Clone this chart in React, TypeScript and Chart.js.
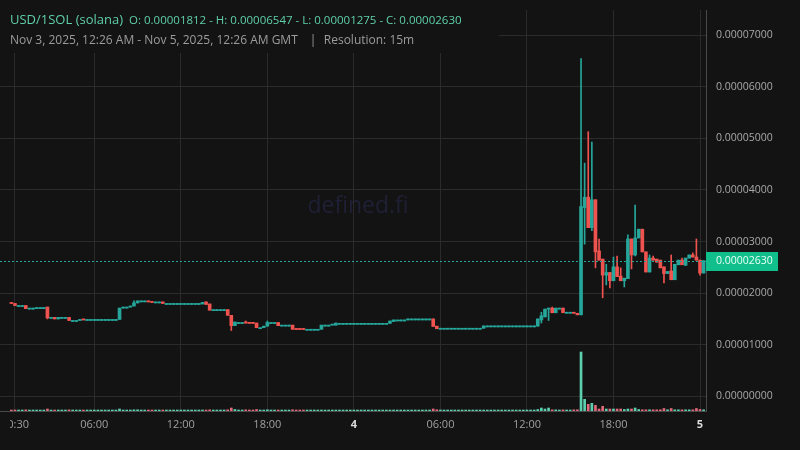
import React, { useEffect, useRef } from "react";
import { Chart, registerables } from "chart.js";

Chart.register(...registerables);

// Prices are in units of 0.00001 SOL-per-USD (PRICE_UNIT); one candle per 15-minute slot.
const PRICE_UNIT = 1e-5;
const FIRST_SLOT = 1; // slot index counted in 15-min steps from Nov 3, 00:00 GMT

const OPEN = [
  1.81, 1.80, 1.76, 1.76, 1.76, 1.71, 1.71, 1.70, 1.72, 1.72,
  1.73, 1.53, 1.53, 1.50, 1.53, 1.53, 1.53, 1.47, 1.47, 1.47,
  1.49, 1.49, 1.49, 1.49, 1.49, 1.49, 1.49, 1.49, 1.49, 1.49,
  1.49, 1.71, 1.73, 1.73, 1.75, 1.81, 1.85, 1.85, 1.85, 1.83,
  1.83, 1.83, 1.83, 1.80, 1.80, 1.80, 1.80, 1.80, 1.80, 1.80,
  1.80, 1.80, 1.80, 1.79, 1.83, 1.79, 1.68, 1.68, 1.68, 1.68,
  1.68, 1.57, 1.37, 1.43, 1.43, 1.44, 1.42, 1.42, 1.42, 1.33,
  1.33, 1.36, 1.43, 1.43, 1.43, 1.38, 1.38, 1.38, 1.38, 1.30,
  1.30, 1.30, 1.30, 1.30, 1.30, 1.30, 1.30, 1.38, 1.38, 1.38,
  1.38, 1.415, 1.415, 1.415, 1.415, 1.415, 1.415, 1.415, 1.415, 1.415,
  1.415, 1.415, 1.415, 1.415, 1.415, 1.415, 1.45, 1.48, 1.48, 1.48,
  1.48, 1.50, 1.50, 1.50, 1.50, 1.50, 1.50, 1.50, 1.36, 1.32,
  1.32, 1.32, 1.32, 1.32, 1.32, 1.32, 1.32, 1.32, 1.32, 1.32,
  1.32, 1.32, 1.365, 1.365, 1.365, 1.365, 1.365, 1.365, 1.365, 1.365,
  1.365, 1.365, 1.365, 1.365, 1.365, 1.365, 1.36, 1.48, 1.54, 1.69,
  1.71, 1.62, 1.71, 1.71, 1.63, 1.63, 1.63, 1.61, 1.58, 3.66,
  3.86, 3.27, 3.81, 2.82, 2.66, 2.35, 2.40, 2.24, 2.51, 2.33,
  2.24, 2.28, 3.05, 2.74, 3.07, 3.24, 2.80, 2.41, 2.68, 2.66,
  2.64, 2.51, 2.38, 2.43, 2.26, 2.55, 2.64, 2.54, 2.68, 2.74,
  2.70, 2.64, 2.39,
];

const HIGH = [
  1.81, 1.80, 1.76, 1.76, 1.76, 1.71, 1.71, 1.72, 1.72, 1.72,
  1.73, 1.53, 1.53, 1.53, 1.53, 1.53, 1.53, 1.47, 1.47, 1.49,
  1.49, 1.49, 1.49, 1.49, 1.49, 1.49, 1.49, 1.49, 1.49, 1.49,
  1.71, 1.73, 1.73, 1.75, 1.85, 1.85, 1.85, 1.85, 1.85, 1.83,
  1.83, 1.83, 1.83, 1.80, 1.80, 1.80, 1.80, 1.80, 1.80, 1.80,
  1.80, 1.80, 1.80, 1.82, 1.83, 1.79, 1.68, 1.68, 1.68, 1.68,
  1.68, 1.57, 1.44, 1.43, 1.43, 1.46, 1.42, 1.42, 1.42, 1.33,
  1.36, 1.46, 1.43, 1.43, 1.43, 1.38, 1.38, 1.38, 1.38, 1.30,
  1.30, 1.30, 1.30, 1.30, 1.30, 1.30, 1.38, 1.38, 1.38, 1.39,
  1.42, 1.415, 1.415, 1.415, 1.415, 1.415, 1.415, 1.415, 1.415, 1.415,
  1.415, 1.415, 1.415, 1.415, 1.415, 1.46, 1.48, 1.48, 1.48, 1.48,
  1.50, 1.50, 1.50, 1.50, 1.50, 1.50, 1.50, 1.50, 1.36, 1.32,
  1.32, 1.32, 1.32, 1.32, 1.32, 1.32, 1.32, 1.32, 1.32, 1.32,
  1.32, 1.365, 1.365, 1.365, 1.365, 1.365, 1.365, 1.365, 1.365, 1.365,
  1.365, 1.365, 1.365, 1.365, 1.365, 1.365, 1.50, 1.63, 1.69, 1.71,
  1.73, 1.71, 1.71, 1.71, 1.63, 1.63, 1.63, 1.61, 6.547, 4.52,
  5.13, 4.93, 3.81, 3.05, 2.66, 2.56, 2.40, 2.70, 2.72, 2.49,
  2.29, 3.13, 3.05, 3.71, 3.24, 3.24, 2.80, 2.74, 2.72, 2.66,
  2.64, 2.51, 2.42, 2.74, 2.56, 2.64, 2.68, 2.68, 2.74, 2.78,
  3.05, 2.64, 2.63,
];

const LOW = [
  1.80, 1.76, 1.76, 1.76, 1.70, 1.71, 1.71, 1.70, 1.72, 1.72,
  1.50, 1.53, 1.50, 1.50, 1.53, 1.53, 1.47, 1.47, 1.47, 1.47,
  1.48, 1.49, 1.49, 1.49, 1.49, 1.49, 1.49, 1.49, 1.49, 1.49,
  1.49, 1.71, 1.73, 1.73, 1.75, 1.81, 1.85, 1.85, 1.83, 1.82,
  1.83, 1.83, 1.80, 1.80, 1.80, 1.80, 1.80, 1.80, 1.80, 1.80,
  1.80, 1.80, 1.80, 1.79, 1.78, 1.67, 1.68, 1.68, 1.68, 1.68,
  1.57, 1.275, 1.37, 1.43, 1.43, 1.42, 1.415, 1.415, 1.33, 1.33,
  1.33, 1.36, 1.43, 1.43, 1.37, 1.38, 1.38, 1.38, 1.30, 1.295,
  1.295, 1.295, 1.30, 1.30, 1.30, 1.30, 1.30, 1.38, 1.38, 1.38,
  1.38, 1.415, 1.415, 1.415, 1.415, 1.415, 1.415, 1.415, 1.415, 1.415,
  1.415, 1.415, 1.415, 1.415, 1.415, 1.415, 1.45, 1.48, 1.48, 1.48,
  1.48, 1.50, 1.50, 1.50, 1.50, 1.50, 1.50, 1.355, 1.31, 1.32,
  1.32, 1.32, 1.32, 1.32, 1.32, 1.32, 1.32, 1.32, 1.32, 1.32,
  1.32, 1.32, 1.365, 1.365, 1.365, 1.365, 1.365, 1.365, 1.365, 1.365,
  1.365, 1.365, 1.365, 1.365, 1.365, 1.365, 1.36, 1.42, 1.54, 1.47,
  1.62, 1.62, 1.71, 1.62, 1.63, 1.63, 1.61, 1.58, 1.58, 2.95,
  3.27, 3.21, 2.49, 2.64, 1.91, 2.16, 2.10, 2.24, 2.32, 2.24,
  2.12, 2.28, 2.47, 2.72, 3.07, 2.80, 2.41, 2.41, 2.64, 2.60,
  2.49, 2.20, 2.38, 2.26, 2.26, 2.55, 2.55, 2.54, 2.68, 2.70,
  2.64, 2.35, 2.39,
];

const CLOSE = [
  1.80, 1.76, 1.76, 1.76, 1.70, 1.71, 1.71, 1.72, 1.72, 1.72,
  1.52, 1.53, 1.50, 1.53, 1.53, 1.53, 1.47, 1.47, 1.47, 1.49,
  1.48, 1.49, 1.49, 1.49, 1.49, 1.49, 1.49, 1.49, 1.49, 1.49,
  1.71, 1.73, 1.73, 1.75, 1.81, 1.85, 1.85, 1.85, 1.83, 1.82,
  1.83, 1.83, 1.80, 1.80, 1.80, 1.80, 1.80, 1.80, 1.80, 1.80,
  1.80, 1.80, 1.80, 1.82, 1.78, 1.67, 1.68, 1.68, 1.68, 1.68,
  1.57, 1.37, 1.44, 1.43, 1.43, 1.42, 1.415, 1.415, 1.33, 1.33,
  1.36, 1.43, 1.43, 1.43, 1.37, 1.38, 1.38, 1.38, 1.30, 1.295,
  1.295, 1.295, 1.30, 1.30, 1.30, 1.30, 1.38, 1.38, 1.38, 1.39,
  1.42, 1.415, 1.415, 1.415, 1.415, 1.415, 1.415, 1.415, 1.415, 1.415,
  1.415, 1.415, 1.415, 1.415, 1.415, 1.46, 1.48, 1.48, 1.48, 1.48,
  1.50, 1.50, 1.50, 1.50, 1.50, 1.50, 1.50, 1.355, 1.31, 1.32,
  1.32, 1.32, 1.32, 1.32, 1.32, 1.32, 1.32, 1.32, 1.32, 1.32,
  1.32, 1.365, 1.365, 1.365, 1.365, 1.365, 1.365, 1.365, 1.365, 1.365,
  1.365, 1.365, 1.365, 1.365, 1.365, 1.365, 1.50, 1.56, 1.69, 1.71,
  1.62, 1.71, 1.71, 1.62, 1.63, 1.63, 1.61, 1.58, 3.68, 3.86,
  3.27, 3.81, 2.80, 2.64, 2.35, 2.40, 2.24, 2.51, 2.32, 2.24,
  2.29, 3.05, 2.74, 3.07, 3.24, 2.80, 2.41, 2.68, 2.64, 2.60,
  2.49, 2.38, 2.42, 2.26, 2.56, 2.64, 2.55, 2.68, 2.74, 2.70,
  2.64, 2.39, 2.63,
];

// relative volume per candle
const VOLUME = [
  10, 10, 10, 10, 12, 10, 10, 10, 10, 10,
  20, 10, 10, 10, 10, 10, 12, 10, 10, 10,
  10, 10, 10, 10, 10, 10, 10, 10, 10, 10,
  20, 10, 10, 10, 12, 12, 10, 10, 10, 10,
  10, 10, 10, 10, 10, 10, 10, 10, 10, 10,
  10, 10, 10, 10, 10, 12, 10, 10, 10, 10,
  12, 30, 15, 10, 10, 12, 10, 10, 15, 10,
  10, 12, 10, 10, 10, 10, 10, 10, 12, 10,
  10, 10, 10, 10, 10, 10, 10, 10, 10, 10,
  10, 10, 10, 10, 10, 10, 10, 10, 10, 10,
  10, 10, 10, 10, 10, 10, 10, 10, 10, 10,
  10, 10, 10, 10, 10, 10, 10, 20, 12, 10,
  10, 10, 10, 10, 10, 10, 10, 10, 10, 10,
  10, 10, 10, 10, 10, 10, 10, 10, 10, 10,
  10, 10, 10, 10, 10, 10, 15, 30, 20, 30,
  12, 12, 10, 12, 10, 10, 12, 12, 590, 117,
  67, 77, 57, 20, 47, 20, 20, 20, 20, 20,
  15, 20, 20, 30, 15, 12, 12, 12, 12, 12,
  12, 25, 12, 25, 12, 12, 12, 12, 12, 12,
  25, 15, 12,
];

const TICK_SLOTS = [2, 24, 48, 72, 96, 120, 144, 168, 192];
const TICK_LABELS = ["00:30", "06:00", "12:00", "18:00", "4", "06:00", "12:00", "18:00", "5"];
const DAY_TICKS = ["4", "5"];
const PRICE_TICKS = [0, 1, 2, 3, 4, 5, 6, 7];

const PAIR_TITLE = "USD/1SOL (solana)";
const OHLC_TEXT = "O: 0.00001812 - H: 0.00006547 - L: 0.00001275 - C: 0.00002630";
const RANGE_TEXT = "Nov 3, 2025, 12:26 AM - Nov 5, 2025, 12:26 AM GMT";
const RES_TEXT = "Resolution: 15m";
const WATERMARK = "defined.fi";

const BG = "#131313";
const UP = "#26a69a";
const DOWN = "#ef5350";
const VOL_UP = "#5ccfae";
const VOL_DOWN = "#e0697b";
const GRID = "#2b2b2b";
const AXIS = "#4a4a4a";
const X_LABEL = "#a0a0a0";
const FONT = "'Open Sans', 'Noto Sans', sans-serif";

export default function App() {
  const ref = useRef<HTMLCanvasElement | null>(null);

  useEffect(() => {
    const canvas = ref.current;
    if (!canvas) return;

    const isUp = OPEN.map((o, i) => CLOSE[i] >= o);
    const candleColors = isUp.map((u) => (u ? UP : DOWN));
    const volColors = isUp.map((u) => (u ? VOL_UP : VOL_DOWN));
    const lastClose = CLOSE[CLOSE.length - 1];

    const bgPlugin = {
      id: "bgAndWatermark",
      beforeDraw(chart: any) {
        const { ctx, chartArea } = chart;
        ctx.save();
        ctx.fillStyle = BG;
        ctx.fillRect(0, 0, chart.width, chart.height);
        ctx.font = `23px ${FONT}`;
        ctx.fillStyle = "#1f2036";
        ctx.textAlign = "center";
        ctx.textBaseline = "middle";
        const cx = (chartArea.left + chartArea.right) / 2 + 5;
        const cy = (chartArea.top + chartArea.bottom) / 2 - 4;
        ctx.fillText(WATERMARK, cx, cy);
        ctx.restore();
      },
    };

    const overlayPlugin = {
      id: "overlay",
      afterDatasetsDraw(chart: any) {
        const { ctx, chartArea, scales } = chart;
        const y = Math.round(scales.y.getPixelForValue(lastClose)) + 0.5;
        ctx.save();
        ctx.beginPath();
        ctx.rect(chartArea.left, chartArea.top, chartArea.right - chartArea.left, chartArea.bottom - chartArea.top);
        ctx.clip();
        ctx.strokeStyle = UP;
        ctx.lineWidth = 1;
        ctx.setLineDash([2, 2]);
        ctx.beginPath();
        ctx.moveTo(chartArea.left, y);
        ctx.lineTo(chartArea.right, y);
        ctx.stroke();
        ctx.restore();
      },
      afterDraw(chart: any) {
        const { ctx, chartArea, scales } = chart;
        ctx.save();
        // first time label, partly cut off at the pane edge
        const xs = scales.x;
        ctx.save();
        ctx.beginPath();
        ctx.rect(10, xs.top, 60, xs.height);
        ctx.clip();
        ctx.font = `11px ${FONT}`;
        ctx.fillStyle = X_LABEL;
        ctx.textAlign = "center";
        ctx.textBaseline = "middle";
        ctx.fillText(TICK_LABELS[0], xs.getPixelForValue(TICK_SLOTS[0]), xs.top + 7 + 6.6);
        ctx.restore();
        // header panel
        ctx.fillStyle = BG;
        ctx.fillRect(0, 0, 499, 53);
        ctx.textBaseline = "middle";
        ctx.textAlign = "left";
        ctx.fillStyle = "#5fd0ab";
        ctx.font = `13px ${FONT}`;
        ctx.fillText(PAIR_TITLE, 10, 20);
        const w = ctx.measureText(PAIR_TITLE).width;
        ctx.font = `11.5px ${FONT}`;
        ctx.fillText(OHLC_TEXT, 10 + w + 6, 20.5);
        ctx.fillStyle = "#9c9c9c";
        ctx.font = `12px ${FONT}`;
        ctx.fillText(RANGE_TEXT, 10, 40.5);
        const w2 = ctx.measureText(RANGE_TEXT).width;
        ctx.fillText("|", 10 + w2 + 12, 40.5);
        ctx.fillText(RES_TEXT, 10 + w2 + 26, 40.5);
        // last price label
        const y = scales.y.getPixelForValue(lastClose);
        ctx.fillStyle = "#10bf8c";
        ctx.fillRect(chartArea.right, Math.round(y) - 9, 72, 19);
        ctx.fillStyle = "#eafff7";
        ctx.font = `10.5px ${FONT}`;
        ctx.fillText((lastClose * PRICE_UNIT).toFixed(8), chartArea.right + 10, Math.round(y) + 0.5);
        ctx.restore();
      },
    };

    const chart = new Chart(canvas, {
      type: "bar",
      data: {
        datasets: [
          {
            label: "wick",
            data: LOW.map((l, i) => ({ x: FIRST_SLOT + i, y: [l, HIGH[i]] })) as any,
            backgroundColor: candleColors,
            barThickness: 1,
            minBarLength: 1,
            grouped: false,
            order: 2,
            yAxisID: "y",
          } as any,
          {
            label: "body",
            data: OPEN.map((o, i) => ({ x: FIRST_SLOT + i, y: [o, CLOSE[i]] })) as any,
            backgroundColor: candleColors,
            barThickness: 3,
            minBarLength: 1,
            grouped: false,
            order: 1,
            yAxisID: "y",
          } as any,
          {
            label: "volume",
            data: VOLUME.map((v, i) => ({ x: FIRST_SLOT + i, y: v })) as any,
            backgroundColor: volColors,
            barThickness: 2,
            minBarLength: 1,
            grouped: false,
            order: 3,
            yAxisID: "yv",
          } as any,
        ],
      },
      options: {
        animation: false,
        responsive: false,
        maintainAspectRatio: false,
        layout: { padding: { top: 10, left: 0, right: 0, bottom: 0 } },
        plugins: { legend: { display: false }, tooltip: { enabled: false } },
        scales: {
          x: {
            type: "linear",
            min: -2.155,
            max: 193.66,
            offset: false,
            afterBuildTicks: (s: any) => {
              s.ticks = TICK_SLOTS.map((v) => ({ value: v }));
            },
            afterFit: (s: any) => {
              s.height = 39;
              s.paddingLeft = 0;
              s.paddingRight = 0;
            },
            grid: { color: GRID, drawTicks: false, offset: false },
            border: { color: AXIS },
            ticks: {
              autoSkip: false,
              maxRotation: 0,
              minRotation: 0,
              padding: 7,
              // the first label is drawn by the overlay plugin (clipped at the pane edge)
              callback: (_v: any, i: number) => (i === 0 ? "" : TICK_LABELS[i]),
              color: (c: any) => (DAY_TICKS.includes(TICK_LABELS[c.index]) ? "#dcdcdc" : X_LABEL),
              font: (c: any) => ({
                family: FONT,
                size: 11,
                weight: DAY_TICKS.includes(TICK_LABELS[c.index]) ? "bold" : "normal",
              }),
            },
          } as any,
          y: {
            position: "right",
            min: -0.285,
            max: 7.49,
            afterBuildTicks: (s: any) => {
              s.ticks = PRICE_TICKS.map((v) => ({ value: v }));
            },
            afterFit: (s: any) => {
              s.width = 94;
              s.paddingTop = 0;
              s.paddingBottom = 0;
            },
            grid: { color: GRID, drawTicks: false },
            border: { color: AXIS },
            ticks: {
              padding: 10,
              color: "#a8a8a8",
              font: { family: FONT, size: 10.5 },
              callback: (v: any) => (Number(v) * PRICE_UNIT).toFixed(8),
            },
          } as any,
          yv: {
            display: false,
            min: 0,
            max: 4010,
          } as any,
        },
      },
      plugins: [bgPlugin, overlayPlugin],
    });

    return () => chart.destroy();
  }, []);

  return (
    <div style={{ position: "fixed", left: 0, top: 0, width: 800, height: 450, background: BG }}>
      <canvas ref={ref} width={800} height={450} style={{ display: "block", width: 800, height: 450 }} />
    </div>
  );
}
